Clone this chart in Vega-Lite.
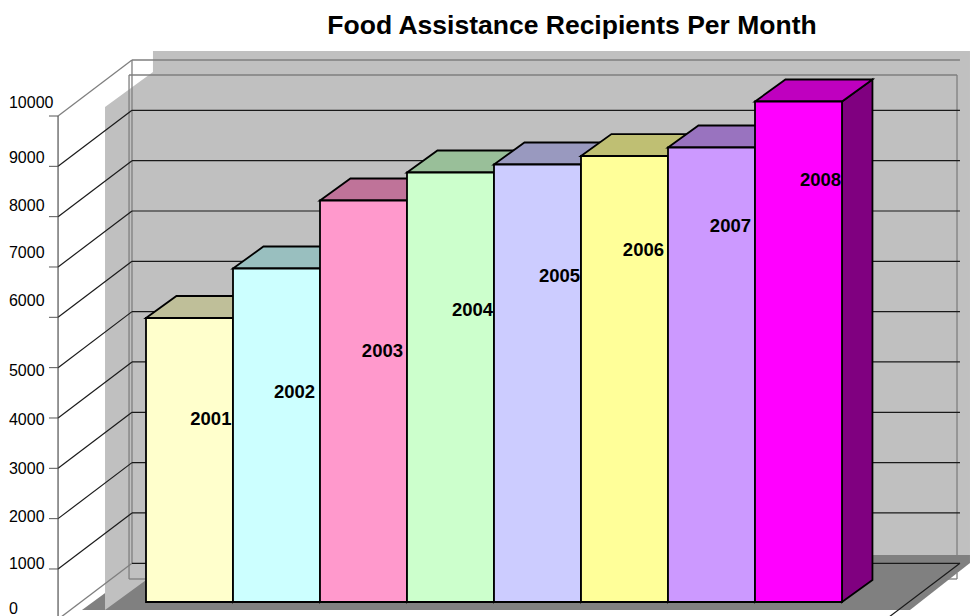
{"$schema":"https://vega.github.io/schema/vega-lite/v6.json","width":970,"height":616,"padding":0,"autosize":"none","background":"white","view":{"stroke":null},"title":{"text":"Food Assistance Recipients Per Month","font":"Liberation Sans","fontSize":26.5,"fontWeight":"bold","color":"#000","anchor":"middle","dx":87,"offset":-39},"datasets":{"floor":[{"x":-0.736,"y":185,"y2":185},{"x":0.126,"y":1278,"y2":185},{"x":8.782,"y":1278,"y2":185},{"x":9.471,"y":1278,"y2":1119}],"wall":[{"x":-0.471,"y":10179,"y2":185},{"x":0.0799,"y":10874,"y2":880},{"x":0.08,"y":11292,"y2":880},{"x":0.391,"y":11292,"y2":1278},{"x":9.471,"y":11292,"y2":1278}],"lines":[{"x":-0.195,"x2":9.322,"y":10815,"y2":10815,"kind":"frame"},{"x":-0.195,"x2":-0.195,"y":10815,"y2":801,"kind":"frame"},{"x":-0.195,"x2":0,"y":801,"y2":801,"kind":"frame"},{"x":9.184,"x2":9.322,"y":801,"y2":801,"kind":"frame"},{"x":9.322,"x2":9.322,"y":10815,"y2":1278,"kind":"frame"},{"x":9.322,"x2":9.322,"y":920,"y2":801,"kind":"frame"},{"x":-0.161,"x2":-0.161,"y":11113,"y2":1113,"kind":"frame"},{"x":-1.011,"x2":-0.161,"y":10000,"y2":11113,"kind":"frame"},{"x":-1.011,"x2":-0.161,"y":0,"y2":1113,"kind":"frame"},{"x":-0.161,"x2":9.356,"y":11113,"y2":11113,"kind":"frame"},{"x":8.506,"x2":9.356,"y":0,"y2":1113,"kind":"grid"},{"x":-1.011,"x2":-0.161,"y":9000,"y2":10113,"kind":"grid"},{"x":-0.161,"x2":9.356,"y":10113,"y2":10113,"kind":"grid"},{"x":-1.011,"x2":-0.161,"y":8000,"y2":9113,"kind":"grid"},{"x":-0.161,"x2":9.356,"y":9113,"y2":9113,"kind":"grid"},{"x":-1.011,"x2":-0.161,"y":7000,"y2":8113,"kind":"grid"},{"x":-0.161,"x2":9.356,"y":8113,"y2":8113,"kind":"grid"},{"x":-1.011,"x2":-0.161,"y":6000,"y2":7113,"kind":"grid"},{"x":-0.161,"x2":9.356,"y":7113,"y2":7113,"kind":"grid"},{"x":-1.011,"x2":-0.161,"y":5000,"y2":6113,"kind":"grid"},{"x":-0.161,"x2":9.356,"y":6113,"y2":6113,"kind":"grid"},{"x":-1.011,"x2":-0.161,"y":4000,"y2":5113,"kind":"grid"},{"x":-0.161,"x2":9.356,"y":5113,"y2":5113,"kind":"grid"},{"x":-1.011,"x2":-0.161,"y":3000,"y2":4113,"kind":"grid"},{"x":-0.161,"x2":9.356,"y":4113,"y2":4113,"kind":"grid"},{"x":-1.011,"x2":-0.161,"y":2000,"y2":3113,"kind":"grid"},{"x":-0.161,"x2":9.356,"y":3113,"y2":3113,"kind":"grid"},{"x":-1.011,"x2":-0.161,"y":1000,"y2":2113,"kind":"grid"},{"x":-0.161,"x2":9.356,"y":2113,"y2":2113,"kind":"grid"},{"x":-0.161,"x2":9.356,"y":1113,"y2":1113,"kind":"grid"},{"x":-1.011,"x2":-1.011,"y":0,"y2":10000,"kind":"axis"},{"x":-1.115,"x2":-1.011,"y":10000,"y2":10000,"kind":"tick"},{"x":-1.115,"x2":-1.011,"y":9000,"y2":9000,"kind":"tick"},{"x":-1.115,"x2":-1.011,"y":8000,"y2":8000,"kind":"tick"},{"x":-1.115,"x2":-1.011,"y":7000,"y2":7000,"kind":"tick"},{"x":-1.115,"x2":-1.011,"y":6000,"y2":6000,"kind":"tick"},{"x":-1.115,"x2":-1.011,"y":5000,"y2":5000,"kind":"tick"},{"x":-1.115,"x2":-1.011,"y":4000,"y2":4000,"kind":"tick"},{"x":-1.115,"x2":-1.011,"y":3000,"y2":3000,"kind":"tick"},{"x":-1.115,"x2":-1.011,"y":2000,"y2":2000,"kind":"tick"},{"x":-1.115,"x2":-1.011,"y":1000,"y2":1000,"kind":"tick"}],"axisLabels":[{"label":"10000","x":-1.575,"at":10258},{"label":"9000","x":-1.575,"at":9171},{"label":"8000","x":-1.575,"at":8218},{"label":"7000","x":-1.575,"at":7278},{"label":"6000","x":-1.575,"at":6324},{"label":"5000","x":-1.575,"at":4933},{"label":"4000","x":-1.575,"at":3960},{"label":"3000","x":-1.575,"at":2986},{"label":"2000","x":-1.575,"at":2032},{"label":"1000","x":-1.575,"at":1089},{"label":"0","x":-1.575,"at":205}],"bars":[{"year":"2001","x":0,"x2":1,"value":5643,"base":0,"lx":0.982,"at":3636},{"year":"2002","x":1,"x2":2,"value":6626,"base":0,"lx":1.943,"at":4172},{"year":"2003","x":2,"x2":3,"value":7977,"base":0,"lx":2.954,"at":4987},{"year":"2004","x":3,"x2":4,"value":8534,"base":0,"lx":3.989,"at":5802},{"year":"2005","x":4,"x2":5,"value":8693,"base":0,"lx":4.989,"at":6477},{"year":"2006","x":5,"x2":6,"value":8861,"base":0,"lx":5.954,"at":6994},{"year":"2007","x":6,"x2":7,"value":9030,"base":0,"lx":6.954,"at":7471},{"year":"2008","x":7,"x2":8,"value":9944,"base":0,"lx":7.989,"at":8385}],"sides":[{"year":"2001","x":1,"y":5643,"y2":0},{"year":"2001","x":1.35,"y":6080,"y2":437},{"year":"2002","x":2,"y":6626,"y2":0},{"year":"2002","x":2.35,"y":7063,"y2":437},{"year":"2003","x":3,"y":7977,"y2":0},{"year":"2003","x":3.35,"y":8414,"y2":437},{"year":"2004","x":4,"y":8534,"y2":0},{"year":"2004","x":4.35,"y":8971,"y2":437},{"year":"2005","x":5,"y":8693,"y2":0},{"year":"2005","x":5.35,"y":9130,"y2":437},{"year":"2006","x":6,"y":8861,"y2":0},{"year":"2006","x":6.35,"y":9298,"y2":437},{"year":"2007","x":7,"y":9030,"y2":0},{"year":"2007","x":7.35,"y":9467,"y2":437},{"year":"2008","x":8,"y":9944,"y2":0},{"year":"2008","x":8.35,"y":10381,"y2":437}],"tops":[{"year":"2001","x":0,"y":5643,"y2":5643},{"year":"2001","x":0.35,"y":6080,"y2":5643},{"year":"2001","x":1,"y":6080,"y2":5643},{"year":"2001","x":1.35,"y":6080,"y2":6080},{"year":"2002","x":1,"y":6626,"y2":6626},{"year":"2002","x":1.35,"y":7063,"y2":6626},{"year":"2002","x":2,"y":7063,"y2":6626},{"year":"2002","x":2.35,"y":7063,"y2":7063},{"year":"2003","x":2,"y":7977,"y2":7977},{"year":"2003","x":2.35,"y":8414,"y2":7977},{"year":"2003","x":3,"y":8414,"y2":7977},{"year":"2003","x":3.35,"y":8414,"y2":8414},{"year":"2004","x":3,"y":8534,"y2":8534},{"year":"2004","x":3.35,"y":8971,"y2":8534},{"year":"2004","x":4,"y":8971,"y2":8534},{"year":"2004","x":4.35,"y":8971,"y2":8971},{"year":"2005","x":4,"y":8693,"y2":8693},{"year":"2005","x":4.35,"y":9130,"y2":8693},{"year":"2005","x":5,"y":9130,"y2":8693},{"year":"2005","x":5.35,"y":9130,"y2":9130},{"year":"2006","x":5,"y":8861,"y2":8861},{"year":"2006","x":5.35,"y":9298,"y2":8861},{"year":"2006","x":6,"y":9298,"y2":8861},{"year":"2006","x":6.35,"y":9298,"y2":9298},{"year":"2007","x":6,"y":9030,"y2":9030},{"year":"2007","x":6.35,"y":9467,"y2":9030},{"year":"2007","x":7,"y":9467,"y2":9030},{"year":"2007","x":7.35,"y":9467,"y2":9467},{"year":"2008","x":7,"y":9944,"y2":9944},{"year":"2008","x":7.35,"y":10381,"y2":9944},{"year":"2008","x":8,"y":10381,"y2":9944},{"year":"2008","x":8.35,"y":10381,"y2":10381}]},"layer":[{"data":{"name":"floor"},"mark":{"type":"area","color":"#808080"},"encoding":{"x":{"field":"x","type":"quantitative","scale":{"domain":[-1.67816,9.47126]},"axis":null},"y":{"field":"y","type":"quantitative","stack":null,"scale":{"domain":[65.6,12305]},"axis":null},"y2":{"field":"y2"}}},{"data":{"name":"wall"},"mark":{"type":"area","color":"#C0C0C0"},"encoding":{"x":{"field":"x","type":"quantitative","scale":{"domain":[-1.67816,9.47126]},"axis":null},"y":{"field":"y","type":"quantitative","stack":null,"scale":{"domain":[65.6,12305]},"axis":null},"y2":{"field":"y2"}}},{"data":{"name":"lines"},"mark":{"type":"rule"},"encoding":{"x":{"field":"x","type":"quantitative","scale":{"domain":[-1.67816,9.47126]},"axis":null},"x2":{"field":"x2"},"y":{"field":"y","type":"quantitative","scale":{"domain":[65.6,12305]},"axis":null},"y2":{"field":"y2"},"color":{"field":"kind","type":"nominal","legend":null,"scale":{"domain":["frame","grid","axis","tick"],"range":["#7F7F7F","#1A1A1A","#404040","#555555"]}},"strokeWidth":{"field":"kind","type":"nominal","legend":null,"scale":{"domain":["frame","grid","axis","tick"],"range":[1.3,1,1.3,1]}}}},{"data":{"name":"axisLabels"},"mark":{"type":"text","align":"left","baseline":"middle","font":"Liberation Sans","fontSize":16,"color":"#000"},"encoding":{"x":{"field":"x","type":"quantitative","scale":{"domain":[-1.67816,9.47126]},"axis":null},"y":{"field":"at","type":"quantitative","scale":{"domain":[65.6,12305]},"axis":null},"text":{"field":"label"}}},{"data":{"name":"sides"},"mark":{"type":"area","stroke":"#000","strokeWidth":1.8},"encoding":{"x":{"field":"x","type":"quantitative","scale":{"domain":[-1.67816,9.47126]},"axis":null},"y":{"field":"y","type":"quantitative","stack":null,"scale":{"domain":[-278.2,11961]},"axis":null},"y2":{"field":"y2"},"color":{"field":"year","type":"nominal","legend":null,"scale":{"domain":["2001","2002","2003","2004","2005","2006","2007","2008"],"range":["#808066","#668080","#804D66","#668066","#666680","#80804D","#664D80","#800080"]}}}},{"data":{"name":"tops"},"mark":{"type":"area","stroke":"#000","strokeWidth":1.8},"encoding":{"x":{"field":"x","type":"quantitative","scale":{"domain":[-1.67816,9.47126]},"axis":null},"y":{"field":"y","type":"quantitative","stack":null,"scale":{"domain":[-278.2,11961]},"axis":null},"y2":{"field":"y2"},"color":{"field":"year","type":"nominal","legend":null,"scale":{"domain":["2001","2002","2003","2004","2005","2006","2007","2008"],"range":["#BFBF99","#99BFBF","#BF7399","#99BF99","#9999BF","#BFBF73","#9973BF","#BF00BF"]}}}},{"data":{"name":"bars"},"mark":{"type":"rect","stroke":"#000","strokeWidth":1.8},"encoding":{"x":{"field":"x","type":"quantitative","scale":{"domain":[-1.67816,9.47126]},"axis":null},"x2":{"field":"x2"},"y":{"field":"value","type":"quantitative","scale":{"domain":[-278.2,11961]},"axis":null},"y2":{"field":"base"},"color":{"field":"year","type":"nominal","legend":null,"scale":{"domain":["2001","2002","2003","2004","2005","2006","2007","2008"],"range":["#FFFFCC","#CCFFFF","#FF99CC","#CCFFCC","#CCCCFF","#FFFF99","#CC99FF","#FF00FF"]}}}},{"data":{"name":"bars"},"mark":{"type":"text","align":"right","baseline":"middle","font":"Liberation Sans","fontSize":18.5,"fontWeight":"bold","color":"#000"},"encoding":{"x":{"field":"lx","type":"quantitative","scale":{"domain":[-1.67816,9.47126]},"axis":null},"y":{"field":"at","type":"quantitative","scale":{"domain":[-278.2,11961]},"axis":null},"text":{"field":"year"}}}],"resolve":{"scale":{"y":"independent","color":"independent","strokeWidth":"independent"}}}
